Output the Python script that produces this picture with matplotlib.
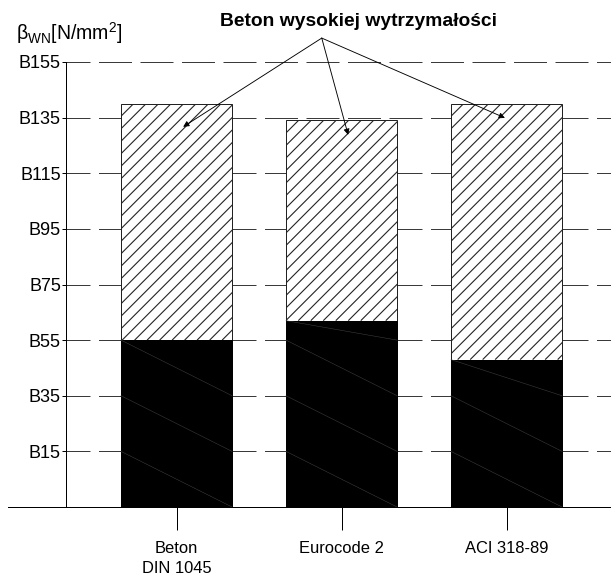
# -*- coding:utf-8 -*-
import numpy as np
import matplotlib
matplotlib.use('Agg')
import matplotlib.pyplot as plt
from matplotlib.collections import LineCollection
from matplotlib.transforms import IdentityTransform

matplotlib.rcParams['font.family'] = ['Liberation Sans', 'DejaVu Sans']
matplotlib.rcParams['mathtext.fontset'] = 'custom'
matplotlib.rcParams['mathtext.rm'] = 'Liberation Sans'
matplotlib.rcParams['mathtext.it'] = 'Liberation Sans'

# dane
kategorie = ['Beton\nDIN 1045', 'Eurocode 2', 'ACI 318-89']
beton_zwykly = [55, 62, 48]          # czarna część słupka
beton_wysoki = [140, 134, 140]       # górna krawędź części kreskowanej
klasy = [15, 35, 55, 75, 95, 115, 135, 155]
etykiety_klas = ['B%d' % k for k in klasy]
y_min = -5

fig = plt.figure(figsize=(611 / 72, 576 / 72), dpi=72)
ax = fig.add_axes([66 / 611, 1 - 507 / 576, 1 - 66 / 611, 445 / 576])

x = np.arange(len(kategorie))
szer = 0.673

ax.set_xlim(-0.67, 2.633)
ax.set_ylim(y_min, 155)

# linie siatki (przerywane)
for k in klasy:
    ax.axhline(k, color='#3a3a3a', lw=1, linestyle=(9, (33, 8.5)), zorder=1)

# część kreskowana
gorne = ax.bar(x, np.array(beton_wysoki) - np.array(beton_zwykly), szer, bottom=beton_zwykly,
               color='white', edgecolor='#222222', lw=1, zorder=2)
# kreskowanie rysowane ręcznie (gęstość jak w oryginale)
krok = 12.5
for p in gorne.patches:
    bb = p.get_window_extent()
    h = bb.y1 - bb.y0
    segs = [[(c, bb.y0), (c + h, bb.y1)] for c in np.arange(bb.x0 - h, bb.x1 + krok, krok)]
    lc = LineCollection(segs, colors='#222222', linewidths=1.1, transform=IdentityTransform(), zorder=2.5)
    ax.add_collection(lc, autolim=False)
    lc.set_clip_box(bb)

# część czarna
ax.bar(x, np.array(beton_zwykly) - y_min, szer, bottom=y_min,
       color='black', edgecolor='black', lw=1, zorder=3)

# cienkie ukośne linie w czarnej części
for xi, top in zip(x, beton_zwykly):
    starty = [top] + [k for k in klasy if k < top]
    for s in starty:
        nizej = [k for k in klasy if k < s]
        dol = max(nizej) if nizej else y_min
        ax.plot([xi - szer / 2, xi + szer / 2], [s, dol], color='#404040', lw=0.5, zorder=4)

ax.set_yticks(klasy)
ax.set_yticklabels(etykiety_klas, fontsize=18)
ax.set_xticks(x)
ax.set_xticklabels(kategorie, fontsize=16.5, linespacing=1.4)
ax.tick_params(axis='y', length=4, width=1, pad=1)
ax.tick_params(axis='x', length=23, width=1, pad=11)

for s in ['top', 'right', 'bottom']:
    ax.spines[s].set_visible(False)
ax.spines['left'].set_linewidth(1)
ax.plot([-0.106, 1], [0, 0], transform=ax.transAxes, color='black', lw=1, clip_on=False, zorder=5)

# opis osi
fig.text(16 / 611, 1 - 40 / 576, r'β$_{\mathrm{WN}}$[N/mm$^{2}$]', fontsize=19.5, va='baseline')

# tytuł i strzałki
fig.text(359 / 611, 1 - 21 / 576, 'Beton wysokiej wytrzymałości', fontsize=19.3,
         fontweight='bold', ha='center', va='center')
zrodlo = (0.88, 163.6)
cele = [(0.04, 131.7), (1.04, 128.8), (1.99, 134.9)]
for cel in cele:
    ax.annotate('', xy=cel, xytext=zrodlo, annotation_clip=False,
                arrowprops=dict(arrowstyle='-|>', color='black', lw=0.9,
                                mutation_scale=12, shrinkA=0, shrinkB=0), zorder=6)

fig.savefig('out.png', dpi=72)
